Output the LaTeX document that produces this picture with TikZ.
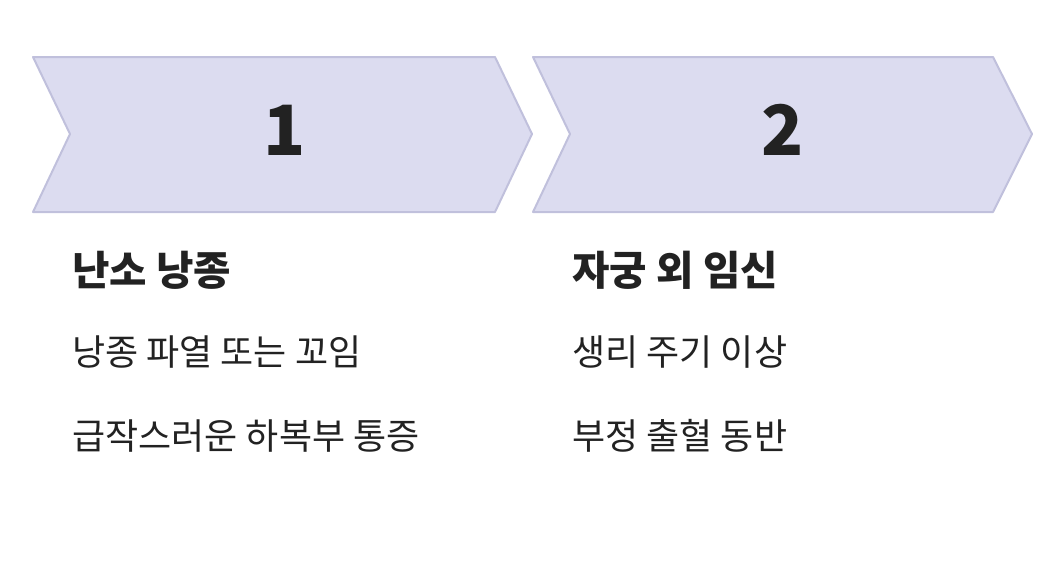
\documentclass[tikz,border=0pt]{standalone}
\usepackage{fontspec}
\newfontfamily\cjk{Noto Sans CJK KR}[BoldFont={Noto Sans CJK KR Black}]
\definecolor{chfill}{HTML}{DCDCF0}
\definecolor{chline}{HTML}{C0C0DC}
\definecolor{txt}{HTML}{222222}
\begin{document}
\begin{tikzpicture}[x=0.75pt,y=-0.75pt,
  chev/.style={fill=chfill,draw=chline,line width=1.5pt,line join=round},
  num/.style={font=\cjk\bfseries\fontsize{52}{60}\selectfont,text=txt},
  ttl/.style={anchor=west,font=\cjk\bfseries\fontsize{30.5}{36}\selectfont,text=txt,inner sep=0pt},
  body/.style={anchor=west,font=\cjk\fontsize{27}{32}\selectfont,text=txt,inner sep=0pt}]
\useasboundingbox (0,0) rectangle (1044,578);
\draw[chev] (33,57) -- (495,57) -- (532,134) -- (495,212) -- (33,212) -- (70,134) -- cycle;
\draw[chev] (533,57) -- (993,57) -- (1032,134) -- (993,212) -- (533,212) -- (570,134) -- cycle;
\node[num] (n1) at (285,130) {1};
\node[num] (n2) at (783,130) {2};
\node[ttl] (t1) at (72,270) {난소 낭종};
\node[ttl] (t2) at (572,270) {자궁 외 임신};
\node[body] (a1) at (72,352) {낭종 파열 또는 꼬임};
\node[body] (a2) at (72,436) {급작스러운 하복부 통증};
\node[body] (b1) at (572,352) {생리 주기 이상};
\node[body] (b2) at (572,436) {부정 출혈 동반};
\end{tikzpicture}
\end{document}
